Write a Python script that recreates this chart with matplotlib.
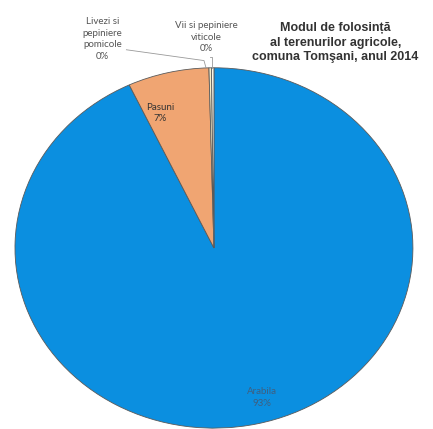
import matplotlib.pyplot as plt

# Data
categories = ['Arabila', 'Pasuni', 'Livezi si\npepiniere\npomicole', 'Vii si pepiniere\nviticole']
shares = [93.0, 6.6, 0.2, 0.2]
pct_labels = ['93%', '7%', '0%', '0%']
colors = ['#0b8fe0', '#f0a572', '#f6ecc8', '#fbf6e6']

title = 'Modul de folosință\nal terenurilor agricole,\ncomuna Tomşani, anul 2014'

plt.rcParams['font.family'] = ['Liberation Sans', 'DejaVu Sans']

fig = plt.figure(figsize=(4.33, 4.29), dpi=100)
ax = fig.add_axes([0.0346, 0.002, 0.919, 0.84])

wedges, _ = ax.pie(shares, colors=colors, startangle=90, counterclock=False,
                   wedgeprops=dict(edgecolor='#5a5a5a', linewidth=0.6))
for w in wedges:
    w.set_clip_on(False)
ax.set_aspect('auto')
ax.set_xlim(-1, 1)
ax.set_ylim(-1, 1)

lab_font = ['Lato', 'DejaVu Sans']
lab_col = '#555555'
# slice labels
ax.text(0.24, -0.83, categories[0] + '\n' + pct_labels[0], ha='center', va='center',
        fontsize=7, color='#3f5f80', linespacing=1.3, family=lab_font)
ax.text(-0.27, 0.75, categories[1] + '\n' + pct_labels[1], ha='center', va='center',
        fontsize=7, color='#333333', linespacing=1.3, family=lab_font)
ax.text(-0.56, 1.16, categories[2] + '\n' + pct_labels[2], ha='center', va='center',
        fontsize=7, color=lab_col, linespacing=1.35, clip_on=False, family=lab_font)
ax.text(-0.04, 1.17, categories[3] + '\n' + pct_labels[3], ha='center', va='center',
        fontsize=7, color=lab_col, linespacing=1.35, clip_on=False, family=lab_font)

# leader lines
ax.plot([-0.44, -0.05, -0.04], [1.10, 1.04, 1.0], color='#999999', lw=0.6, clip_on=False)
ax.plot([-0.02, -0.01, -0.01], [1.06, 1.06, 1.0], color='#999999', lw=0.6, clip_on=False)

ax.text(0.61, 1.14, title, ha='center', va='center', fontsize=9, fontweight='bold',
        color='#333333', linespacing=1.3, clip_on=False)

fig.savefig('out.png', dpi=100)
